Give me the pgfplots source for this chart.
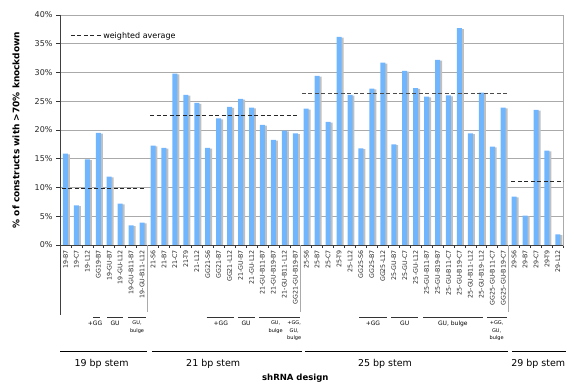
\documentclass[border=0pt]{standalone}
\usepackage{pgfplots}
\pgfplotsset{compat=1.18}
\usepackage{fontspec}
\setmainfont{DejaVu Sans}
\definecolor{barblue}{RGB}{112,182,255}
\definecolor{shadowgray}{RGB}{192,192,192}
\definecolor{gridgray}{RGB}{170,170,170}
\begin{document}
\begin{tikzpicture}
\useasboundingbox (0pt,0pt) rectangle (566pt,388pt);
\begin{axis}[
  at={(60pt,143pt)}, anchor=south west,
  scale only axis, width=503.4pt, height=230pt,
  xmin=-0.5, xmax=45.5, ymin=0, ymax=40,
  clip mode=individual,
  axis line style={draw=gridgray, line width=0.8pt},
  ymajorgrids, grid style={draw=gridgray, line width=0.8pt},
  ytick={0,5,...,40},
  yticklabels={0\%,5\%,10\%,15\%,20\%,25\%,30\%,35\%,40\%},
  yticklabel style={font=\fontsize{8}{9}\selectfont, text=black!85},
  xtick={0,...,45},
  xticklabels={19-B7,19-C7,19-L12,GG19-B7,19-GU-B7,19-GU-L12,19-GU-B11-B7,19-GU-B11-L12,
    21-S6,21-B7,21-C7,21-T9,21-L12,GG21-S6,GG21-B7,GG21-L12,21-GU-B7,21-GU-L12,21-GU-B11-B7,21-GU-B19-B7,21-GU-B11-L12,GG21-GU-B19-B7,
    25-S6,25-B7,25-C7,25-T9,25-L12,GG25-S6,GG25-B7,GG25-L12,25-GU-B7,25-GU-C7,25-GU-L12,25-GU-B11-B7,25-GU-B19-B7,25-GU-B11-C7,25-GU-B19-C7,25-GU-B11-L12,25-GU-B19-L12,GG25-GU-B11-C7,GG25-GU-B19-C7,
    29-S6,29-B7,29-C7,29-T9,29-L12},
  xticklabel style={rotate=90, anchor=east, font=\fontsize{6.3}{7}\selectfont, text=black!85, inner sep=1pt},
  major x tick style={draw=none},
  minor xtick={-0.5,0.5,...,45.5},
  minor tick length=3pt,
  major tick length=4pt,
  tick align=outside,
  tick pos=left,
  tick style={draw=black!80, line width=0.6pt},
  legend style={draw=none, fill=none, at={(rel axis cs:0.02,0.909)}, anchor=west,
    font=\fontsize{8}{9}\selectfont, inner sep=0pt, legend cell align=left},
  legend image code/.code={\draw[#1] (0pt,0pt) -- (30pt,0pt);},
]
% shadow bars
\addplot[ybar, bar width=0.457, bar shift=0.18, fill=shadowgray, draw=none, yshift=-0.8pt, forget plot]
 coordinates {(0,15.9)(1,6.9)(2,14.9)(3,19.5)(4,11.9)(5,7.2)(6,3.4)(7,3.9)
 (8,17.3)(9,16.9)(10,29.8)(11,26.1)(12,24.7)(13,16.9)(14,22.0)(15,24.0)(16,25.4)(17,23.9)(18,20.9)(19,18.3)(20,19.9)(21,19.4)
 (22,23.7)(23,29.4)(24,21.4)(25,36.2)(26,26.1)(27,16.8)(28,27.2)(29,31.7)(30,17.5)(31,30.3)(32,27.3)(33,25.8)(34,32.2)(35,26.0)(36,37.7)(37,19.4)(38,26.5)(39,17.1)(40,23.9)
 (41,8.4)(42,5.1)(43,23.5)(44,16.4)(45,1.85)};
% main bars
\addplot[ybar, bar width=0.457, bar shift=0, fill=barblue, draw=none, forget plot]
 coordinates {(0,15.9)(1,6.9)(2,14.9)(3,19.5)(4,11.9)(5,7.2)(6,3.4)(7,3.9)
 (8,17.3)(9,16.9)(10,29.8)(11,26.1)(12,24.7)(13,16.9)(14,22.0)(15,24.0)(16,25.4)(17,23.9)(18,20.9)(19,18.3)(20,19.9)(21,19.4)
 (22,23.7)(23,29.4)(24,21.4)(25,36.2)(26,26.1)(27,16.8)(28,27.2)(29,31.7)(30,17.5)(31,30.3)(32,27.3)(33,25.8)(34,32.2)(35,26.0)(36,37.7)(37,19.4)(38,26.5)(39,17.1)(40,23.9)
 (41,8.4)(42,5.1)(43,23.5)(44,16.4)(45,1.85)};
% weighted averages
\addplot[black!85, line width=1pt, dash pattern=on 4pt off 2.5pt] coordinates {(-0.34,9.8)(7.27,9.8)};
\addlegendentry{weighted average}
\addplot[black!85, line width=1pt, dash pattern=on 4pt off 2.5pt, forget plot] coordinates {(7.73,22.5)(21.26,22.5)};
\addplot[black!70, line width=1pt, dash pattern=on 4pt off 2.5pt, forget plot] coordinates {(21.6,26.35)(40.47,26.35)};
\addplot[black!85, line width=1pt, dash pattern=on 4pt off 2.5pt, forget plot] coordinates {(40.74,11.1)(45.5,11.1)};
% axis lines (dark left & bottom, with extensions)
\draw[black!75, line width=0.8pt] (rel axis cs:0,1) -- ([yshift=-70pt]rel axis cs:0,0);
\draw[black!75, line width=0.8pt] (rel axis cs:0,0) -- (rel axis cs:1,0);
\draw[gridgray, line width=0.8pt] (axis cs:7.5,0) -- ([yshift=-67pt]axis cs:7.5,0);
\draw[gridgray, line width=0.8pt] (axis cs:21.5,0) -- ([yshift=-67pt]axis cs:21.5,0);
\draw[gridgray, line width=0.8pt] (axis cs:40.5,0) -- ([yshift=-67pt]axis cs:40.5,0);
% sub-group lines
\draw[black!80, line width=1pt] ([yshift=-72.7pt]axis cs:2.55,0) -- ([yshift=-72.7pt]axis cs:3.2,0);
\draw[black!80, line width=1pt] ([yshift=-72.7pt]axis cs:3.8,0) -- ([yshift=-72.7pt]axis cs:5.26,0);
\draw[black!80, line width=1pt] ([yshift=-72.7pt]axis cs:5.7,0) -- ([yshift=-72.7pt]axis cs:7.36,0);
\draw[black!80, line width=1pt] ([yshift=-72.7pt]axis cs:12.9,0) -- ([yshift=-72.7pt]axis cs:15.4,0);
\draw[black!80, line width=1pt] ([yshift=-72.7pt]axis cs:15.75,0) -- ([yshift=-72.7pt]axis cs:17.33,0);
\draw[black!80, line width=1pt] ([yshift=-72.7pt]axis cs:17.7,0) -- ([yshift=-72.7pt]axis cs:20.7,0);
\draw[black!80, line width=1pt] ([yshift=-72.7pt]axis cs:20.4,0) -- ([yshift=-72.7pt]axis cs:21.4,0);
\draw[black!80, line width=1pt] ([yshift=-72.7pt]axis cs:26.84,0) -- ([yshift=-72.7pt]axis cs:29.4,0);
\draw[black!80, line width=1pt] ([yshift=-72.7pt]axis cs:29.74,0) -- ([yshift=-72.7pt]axis cs:32.24,0);
\draw[black!80, line width=1pt] ([yshift=-72.7pt]axis cs:32.7,0) -- ([yshift=-72.7pt]axis cs:38.16,0);
\draw[black!80, line width=1pt] ([yshift=-72.7pt]axis cs:38.5,0) -- ([yshift=-72.7pt]axis cs:40.35,0);
% sub-group labels
\node[anchor=north, font=\fontsize{6}{7}\selectfont, inner sep=0pt] at ([yshift=-76pt]axis cs:2.7,0) {+GG};
\node[anchor=north, font=\fontsize{6}{7}\selectfont, inner sep=0pt] at ([yshift=-76pt]axis cs:4.53,0) {GU};
\node[anchor=north, font=\fontsize{5}{7.5}\selectfont, inner sep=0pt, align=center] at ([yshift=-76pt]axis cs:6.54,0) {GU,\\bulge};
\node[anchor=north, font=\fontsize{6}{7}\selectfont, inner sep=0pt] at ([yshift=-76pt]axis cs:14.2,0) {+GG};
\node[anchor=north, font=\fontsize{6}{7}\selectfont, inner sep=0pt] at ([yshift=-76pt]axis cs:16.5,0) {GU};
\node[anchor=north, font=\fontsize{5}{7.5}\selectfont, inner sep=0pt, align=center] at ([yshift=-76pt]axis cs:19.2,0) {GU,\\bulge};
\node[anchor=north, font=\fontsize{5}{7.5}\selectfont, inner sep=0pt, align=center] at ([yshift=-76pt]axis cs:20.9,0) {+GG,\\GU,\\bulge};
\node[anchor=north, font=\fontsize{6}{7}\selectfont, inner sep=0pt] at ([yshift=-76pt]axis cs:28.1,0) {+GG};
\node[anchor=north, font=\fontsize{6}{7}\selectfont, inner sep=0pt] at ([yshift=-76pt]axis cs:31.0,0) {GU};
\node[anchor=north, font=\fontsize{6}{7}\selectfont, inner sep=0pt] at ([yshift=-76pt]axis cs:35.4,0) {GU, bulge};
\node[anchor=north, font=\fontsize{5}{7.5}\selectfont, inner sep=0pt, align=center] at ([yshift=-76pt]axis cs:39.4,0) {+GG,\\GU,\\bulge};
% stem lines
\draw[black, line width=1.1pt] ([yshift=-106.7pt]axis cs:-0.5,0) -- ([yshift=-106.7pt]axis cs:7.43,0);
\draw[black, line width=1.1pt] ([yshift=-106.7pt]axis cs:7.89,0) -- ([yshift=-106.7pt]axis cs:21.6,0);
\draw[black, line width=1.1pt] ([yshift=-106.7pt]axis cs:21.9,0) -- ([yshift=-106.7pt]axis cs:40.47,0);
\draw[black, line width=1.1pt] ([yshift=-106.7pt]axis cs:40.8,0) -- ([yshift=-106.7pt]axis cs:45.74,0);
\node[font=\fontsize{9.5}{11}\selectfont] at ([yshift=-119.3pt]axis cs:3.3,0) {19 bp stem};
\node[font=\fontsize{9.5}{11}\selectfont] at ([yshift=-119.3pt]axis cs:13.5,0) {21 bp stem};
\node[font=\fontsize{9.5}{11}\selectfont] at ([yshift=-119.3pt]axis cs:29.2,0) {25 bp stem};
\node[font=\fontsize{9.5}{11}\selectfont] at ([yshift=-119.3pt]axis cs:43.2,0) {29 bp stem};
\node[font=\bfseries\fontsize{8.5}{10}\selectfont] at ([yshift=-133pt]axis cs:21.0,0) {shRNA design};
\end{axis}
\node[rotate=90, font=\bfseries\fontsize{9}{10}\selectfont] at (16pt,258pt) {\% of constructs with >70\% knockdown};
\end{tikzpicture}
\end{document}
